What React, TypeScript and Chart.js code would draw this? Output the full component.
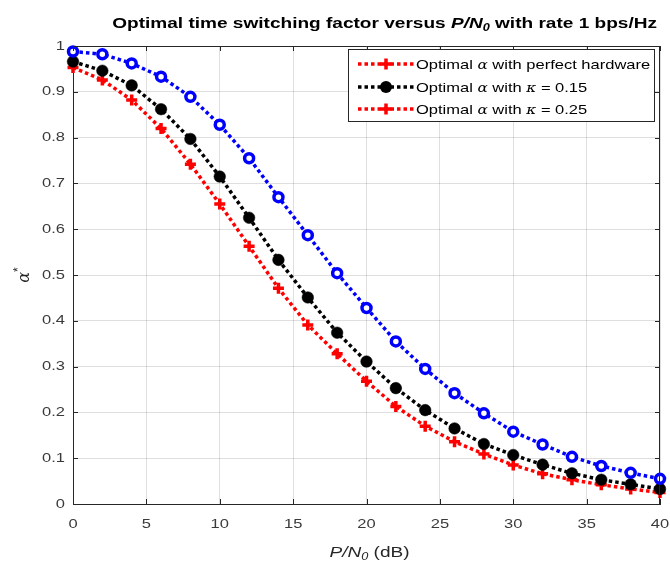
import React, { useEffect, useRef } from 'react';
import { Chart, registerables } from 'chart.js';

Chart.register(...registerables);

// ---------- data ----------
const snrDb = [0, 2, 4, 6, 8, 10, 12, 14, 16, 18, 20, 22, 24, 26, 28, 30, 32, 34, 36, 38, 40];
const alphaPerfect = [0.988, 0.982, 0.962, 0.933, 0.889, 0.828, 0.755, 0.670, 0.587, 0.504, 0.428, 0.355, 0.295, 0.242, 0.198, 0.158, 0.130, 0.103, 0.083, 0.068, 0.055];
const alphaK015 = [0.966, 0.946, 0.914, 0.862, 0.797, 0.715, 0.625, 0.533, 0.451, 0.374, 0.311, 0.253, 0.205, 0.165, 0.131, 0.107, 0.086, 0.067, 0.053, 0.043, 0.033];
const alphaK025 = [0.953, 0.926, 0.882, 0.820, 0.742, 0.655, 0.563, 0.471, 0.391, 0.328, 0.268, 0.213, 0.170, 0.136, 0.109, 0.085, 0.066, 0.053, 0.042, 0.033, 0.025];

const xTickValues = [0, 5, 10, 15, 20, 25, 30, 35, 40];
const yTickValues = [0, 0.1, 0.2, 0.3, 0.4, 0.5, 0.6, 0.7, 0.8, 0.9, 1];

const titleParts = ['Optimal time switching factor versus ', 'P/N', '0', ' with rate 1 bps/Hz'];
const xLabelParts = ['P/N', '0', ' (dB)'];
const yLabelParts = ['α', '*'];
const legendSuffixes = [' with perfect hardware', ' with ', ' with '];
const legendKappa = ['', 'κ', 'κ'];
const legendValues = ['', ' = 0.15', ' = 0.25'];

const SANS = '"Liberation Sans", Arial, Helvetica, sans-serif';
const SERIF = '"DejaVu Serif", "Liberation Serif", serif';
const AXIS = '#262626';
const STRETCH = 1.27;

type Seg = { text: string; font: string; dy?: number };

function segWidth(ctx: CanvasRenderingContext2D, segs: Seg[]) {
  let w = 0;
  for (const s of segs) {
    ctx.font = s.font;
    w += ctx.measureText(s.text).width;
  }
  return w;
}

// draws text segments, horizontally stretched by sx, anchored at x (align) and baseline y
function drawSegs(
  ctx: CanvasRenderingContext2D,
  segs: Seg[],
  x: number,
  y: number,
  align: 'left' | 'center' | 'right',
  sx: number,
  baseline: CanvasTextBaseline = 'alphabetic'
) {
  const w = segWidth(ctx, segs);
  let cx = align === 'center' ? -w / 2 : align === 'right' ? -w : 0;
  ctx.save();
  ctx.translate(x, y);
  ctx.scale(sx, 1);
  ctx.textBaseline = baseline;
  ctx.textAlign = 'left';
  for (const s of segs) {
    ctx.font = s.font;
    ctx.fillText(s.text, cx, s.dy || 0);
    cx += ctx.measureText(s.text).width;
  }
  ctx.restore();
}

function drawPlusMarker(ctx: CanvasRenderingContext2D, x: number, y: number, r: number, color: string) {
  ctx.save();
  ctx.strokeStyle = color;
  ctx.lineWidth = 3.5;
  ctx.setLineDash([]);
  ctx.beginPath();
  ctx.moveTo(x - r, y);
  ctx.lineTo(x + r, y);
  ctx.moveTo(x, y - r);
  ctx.lineTo(x, y + r);
  ctx.stroke();
  ctx.restore();
}

function drawDotMarker(ctx: CanvasRenderingContext2D, x: number, y: number, r: number, color: string) {
  ctx.save();
  ctx.fillStyle = color;
  ctx.beginPath();
  ctx.arc(x, y, r, 0, Math.PI * 2);
  ctx.fill();
  ctx.restore();
}

const overlayPlugin = {
  id: 'overlay',
  afterDraw(chart: any) {
    const ctx: CanvasRenderingContext2D = chart.ctx;
    const { left, right, top, bottom } = chart.chartArea;
    const xs = chart.scales.x;
    const ys = chart.scales.y;
    ctx.save();

    // box (top and right)
    ctx.strokeStyle = AXIS;
    ctx.lineWidth = 1;
    ctx.setLineDash([]);
    ctx.beginPath();
    ctx.moveTo(left, top + 0.5);
    ctx.lineTo(right - 0.5, top + 0.5);
    ctx.lineTo(right - 0.5, bottom);
    ctx.stroke();

    // inward tick marks
    const tl = 5;
    ctx.beginPath();
    for (const v of xTickValues) {
      const px = Math.round(xs.getPixelForValue(v)) + 0.5;
      ctx.moveTo(px, bottom);
      ctx.lineTo(px, bottom - tl);
      ctx.moveTo(px, top);
      ctx.lineTo(px, top + tl);
    }
    for (const v of yTickValues) {
      const py = Math.round(ys.getPixelForValue(v)) + 0.5;
      ctx.moveTo(left, py);
      ctx.lineTo(left + tl, py);
      ctx.moveTo(right, py);
      ctx.lineTo(right - tl, py);
    }
    ctx.stroke();

    // tick labels
    ctx.fillStyle = '#3a3a3a';
    for (const v of xTickValues) {
      const px = xs.getPixelForValue(v);
      drawSegs(ctx, [{ text: String(v), font: `13px ${SANS}` }], px, bottom + 20, 'center', STRETCH, 'middle');
    }
    for (const v of yTickValues) {
      const py = ys.getPixelForValue(v);
      const label = String(Number(v.toFixed(1)));
      drawSegs(ctx, [{ text: label, font: `13px ${SANS}` }], left - 8, py, 'right', STRETCH, 'middle');
    }

    // legend
    const lx0 = 348, lx1 = 655, ly0 = 49, ly1 = 122;
    ctx.fillStyle = '#ffffff';
    ctx.fillRect(lx0, ly0, lx1 - lx0, ly1 - ly0);
    ctx.strokeStyle = AXIS;
    ctx.lineWidth = 1;
    ctx.strokeRect(lx0 + 0.5, ly0 + 0.5, lx1 - lx0 - 1, ly1 - ly0 - 1);
    const rowY = [64, 87, 109];
    const lineColors = ['#ff0000', '#000000', '#ff0000'];
    const markerKinds = ['plus', 'dot', 'plus'];
    for (let i = 0; i < 3; i++) {
      const y = rowY[i];
      ctx.save();
      ctx.strokeStyle = lineColors[i];
      ctx.lineWidth = 3.5;
      ctx.setLineDash([3.5, 3]);
      ctx.beginPath();
      ctx.moveTo(358, y);
      ctx.lineTo(414, y);
      ctx.stroke();
      ctx.restore();
      if (markerKinds[i] === 'plus') drawPlusMarker(ctx, 386, y, 5.5, lineColors[i]);
      else drawDotMarker(ctx, 386, y, 6, lineColors[i]);
      ctx.fillStyle = '#000000';
      const segs: Seg[] = [
        { text: 'Optimal ', font: `13px ${SANS}` },
        { text: 'α', font: `italic 12px ${SERIF}` },
        { text: legendSuffixes[i], font: `13px ${SANS}` },
      ];
      if (legendKappa[i]) {
        segs.push({ text: legendKappa[i], font: `italic 12px ${SERIF}` });
        segs.push({ text: legendValues[i], font: `13px ${SANS}` });
      }
      drawSegs(ctx, segs, 416, y + 5, 'left', STRETCH);
    }

    // title (right end aligned just past the legend box, as in the reference)
    ctx.fillStyle = '#000000';
    drawSegs(ctx, [
      { text: titleParts[0], font: `bold 15px ${SANS}` },
      { text: titleParts[1], font: `italic bold 15px ${SANS}` },
      { text: titleParts[2], font: `italic bold 10px ${SANS}`, dy: 3 },
      { text: titleParts[3], font: `bold 15px ${SANS}` },
    ], 657, 28, 'right', STRETCH);

    // x label
    ctx.fillStyle = AXIS;
    drawSegs(ctx, [
      { text: xLabelParts[0], font: `italic 15px ${SANS}` },
      { text: xLabelParts[1], font: `italic 10px ${SANS}`, dy: 3 },
      { text: xLabelParts[2], font: `15px ${SANS}` },
    ], (left + right) / 2 + 3, 557, 'center', STRETCH);

    // y label
    ctx.save();
    ctx.translate(29, (top + bottom) / 2);
    ctx.rotate(-Math.PI / 2);
    drawSegs(ctx, [
      { text: yLabelParts[0], font: `italic 16px ${SERIF}` },
      { text: yLabelParts[1], font: `12px ${SANS}`, dy: -7 },
    ], 0, 0, 'center', 1);
    ctx.restore();

    ctx.restore();
  },
};

export default function App() {
  const canvasRef = useRef<HTMLCanvasElement | null>(null);

  useEffect(() => {
    const canvas = canvasRef.current;
    if (!canvas) return;
    const toPts = (ys: number[]) => snrDb.map((x, i) => ({ x, y: ys[i] }));
    const lineCommon = {
      borderWidth: 3.5,
      borderDash: [3.5, 3],
      borderCapStyle: 'butt' as const,
      tension: 0,
      fill: false,
      clip: false as const,
    };
    const chart = new Chart(canvas, {
      type: 'line',
      data: {
        datasets: [
          {
            ...lineCommon,
            label: 'perfect',
            data: toPts(alphaPerfect),
            borderColor: '#0000ff',
            pointStyle: 'circle',
            pointRadius: 4.5,
            pointBorderWidth: 3.5,
            pointBorderColor: '#0000ff',
            pointBackgroundColor: '#ffffff',
          },
          {
            ...lineCommon,
            label: 'k015',
            data: toPts(alphaK015),
            borderColor: '#000000',
            pointStyle: 'circle',
            pointRadius: 5.8,
            pointBorderWidth: 0.5,
            pointBorderColor: '#000000',
            pointBackgroundColor: '#000000',
          },
          {
            ...lineCommon,
            label: 'k025',
            data: toPts(alphaK025),
            borderColor: '#ff0000',
            pointStyle: 'cross',
            pointRadius: 5.5,
            pointBorderWidth: 3.5,
            pointBorderColor: '#ff0000',
            pointBackgroundColor: '#ff0000',
          },
        ],
      },
      options: {
        responsive: false,
        animation: false,
        devicePixelRatio: 1,
        layout: { padding: { left: 0, top: 46, right: 10, bottom: 0 } },
        plugins: {
          legend: { display: false },
          title: { display: false },
          tooltip: { enabled: false },
        },
        scales: {
          x: {
            type: 'linear',
            min: 0,
            max: 40,
            afterFit: (s: any) => { s.height = 59; },
            afterBuildTicks: (s: any) => { s.ticks = xTickValues.map((v) => ({ value: v })); },
            grid: { color: 'rgba(38,38,38,0.15)', drawTicks: false },
            border: { display: true, color: AXIS, width: 1 },
            ticks: { display: false },
          },
          y: {
            type: 'linear',
            min: 0,
            max: 1,
            afterFit: (s: any) => { s.width = 73; },
            afterBuildTicks: (s: any) => { s.ticks = yTickValues.map((v) => ({ value: v })); },
            grid: { color: 'rgba(38,38,38,0.15)', drawTicks: false },
            border: { display: true, color: AXIS, width: 1 },
            ticks: { display: false },
          },
        },
      },
      plugins: [overlayPlugin],
    });
    return () => chart.destroy();
  }, []);

  return (
    <div style={{ position: 'fixed', left: 0, top: 0, width: 670, height: 563, background: '#ffffff' }}>
      <canvas ref={canvasRef} width={670} height={563} style={{ display: 'block' }} />
    </div>
  );
}
